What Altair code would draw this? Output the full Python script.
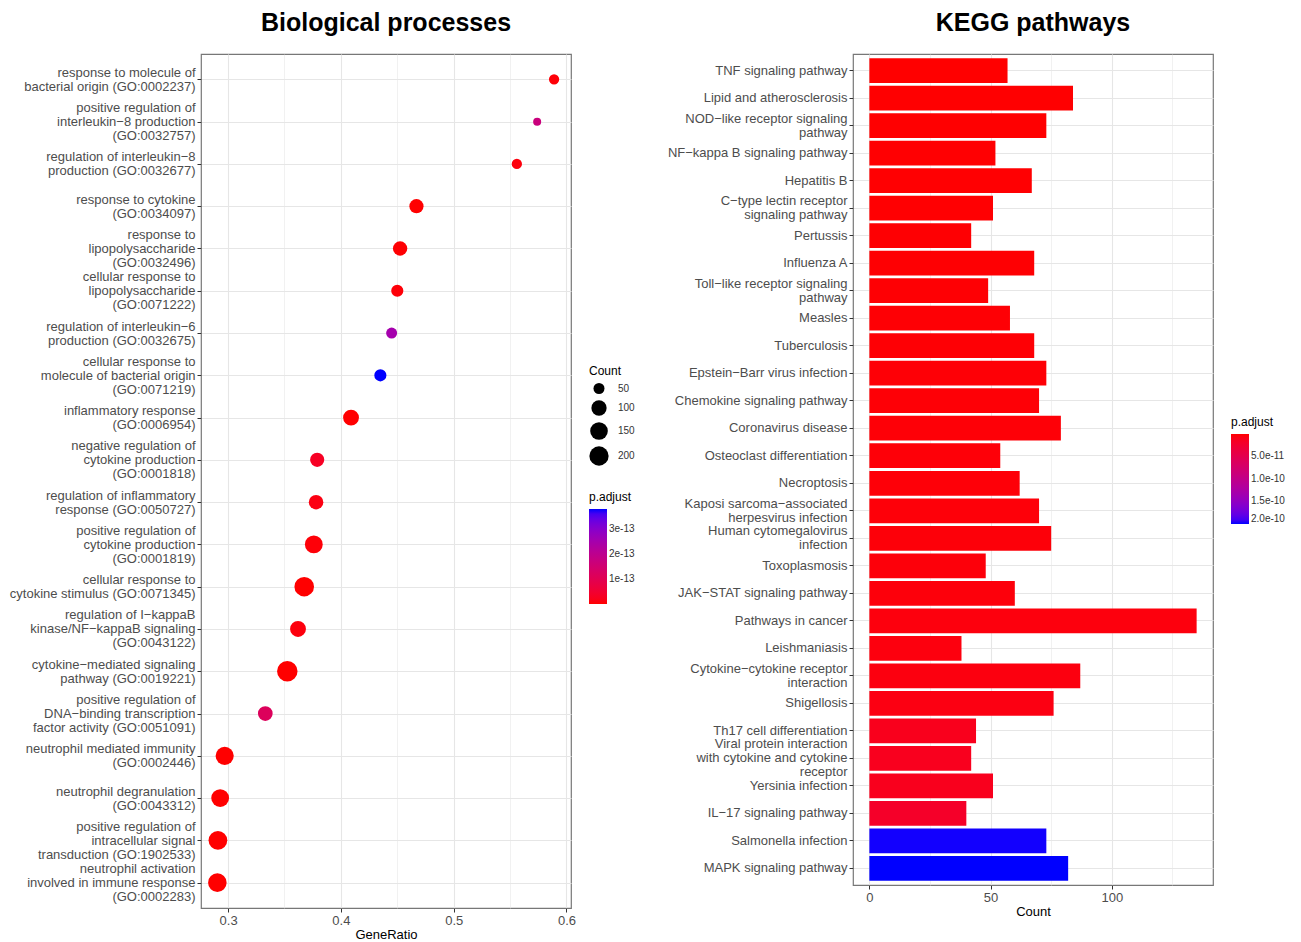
import altair as alt
import pandas as pd

FONT = "Liberation Sans"

# ---------------- Biological processes (GO) ----------------
go_terms = [
    "response to molecule of|bacterial origin (GO:0002237)",
    "positive regulation of|interleukin−8 production|(GO:0032757)",
    "regulation of interleukin−8|production (GO:0032677)",
    "response to cytokine|(GO:0034097)",
    "response to|lipopolysaccharide|(GO:0032496)",
    "cellular response to|lipopolysaccharide|(GO:0071222)",
    "regulation of interleukin−6|production (GO:0032675)",
    "cellular response to|molecule of bacterial origin|(GO:0071219)",
    "inflammatory response|(GO:0006954)",
    "negative regulation of|cytokine production|(GO:0001818)",
    "regulation of inflammatory|response (GO:0050727)",
    "positive regulation of|cytokine production|(GO:0001819)",
    "cellular response to|cytokine stimulus (GO:0071345)",
    "regulation of I−kappaB|kinase/NF−kappaB signaling|(GO:0043122)",
    "cytokine−mediated signaling|pathway (GO:0019221)",
    "positive regulation of|DNA−binding transcription|factor activity (GO:0051091)",
    "neutrophil mediated immunity|(GO:0002446)",
    "neutrophil degranulation|(GO:0043312)",
    "positive regulation of|intracellular signal|transduction (GO:1902533)",
    "neutrophil activation|involved in immune response|(GO:0002283)",
]
go_ratio = [0.589, 0.574, 0.556, 0.467, 0.4525, 0.450, 0.445, 0.435, 0.409,
            0.379, 0.378, 0.376, 0.3675, 0.362, 0.3525, 0.333, 0.297, 0.293,
            0.291, 0.2905]
go_count = [45, 33, 45, 83, 86, 60, 50, 60, 111, 83, 88, 155, 212, 111, 248,
            91, 165, 155, 182, 176]
go_padj = [5e-15, 1.7e-13, 8e-15, 1e-15, 2e-15, 5e-15, 2.5e-13, 3.8e-13, 1e-15,
           3e-14, 1.2e-14, 5e-15, 1e-16, 8e-15, 1e-16, 1.15e-13, 1e-16, 1e-16,
           1e-16, 1e-16]

# ---------------- KEGG pathways ----------------
kegg_terms = [
    "TNF signaling pathway",
    "Lipid and atherosclerosis",
    "NOD−like receptor signaling|pathway",
    "NF−kappa B signaling pathway",
    "Hepatitis B",
    "C−type lectin receptor|signaling pathway",
    "Pertussis",
    "Influenza A",
    "Toll−like receptor signaling|pathway",
    "Measles",
    "Tuberculosis",
    "Epstein−Barr virus infection",
    "Chemokine signaling pathway",
    "Coronavirus disease",
    "Osteoclast differentiation",
    "Necroptosis",
    "Kaposi sarcoma−associated|herpesvirus infection",
    "Human cytomegalovirus|infection",
    "Toxoplasmosis",
    "JAK−STAT signaling pathway",
    "Pathways in cancer",
    "Leishmaniasis",
    "Cytokine−cytokine receptor|interaction",
    "Shigellosis",
    "Th17 cell differentiation",
    "Viral protein interaction|with cytokine and cytokine|receptor",
    "Yersinia infection",
    "IL−17 signaling pathway",
    "Salmonella infection",
    "MAPK signaling pathway",
]
kegg_count = [57, 84, 73, 52, 67, 51, 42, 68, 49, 58, 68, 73, 70, 79, 54, 62,
              70, 75, 48, 60, 135, 38, 87, 76, 44, 42, 51, 40, 73, 82]
kegg_padj = [1.0e-12, 1.2e-12, 1.3e-12, 1.5e-12, 1.6e-12, 1.8e-12, 2.0e-12,
             2.1e-12, 2.3e-12, 2.5e-12, 2.6e-12, 2.8e-12, 3.0e-12, 3.2e-12,
             3.4e-12, 3.6e-12, 3.8e-12, 4.0e-12, 4.3e-12, 4.6e-12, 5.0e-12,
             5.5e-12, 6.0e-12, 7.0e-12, 1.2e-11, 1.3e-11, 1.25e-11, 2.0e-11,
             1.99e-10, 2.0e-10]

bp = pd.DataFrame({"term": go_terms, "GeneRatio": go_ratio,
                   "Count": go_count, "padj": go_padj})
kg = pd.DataFrame({"term": kegg_terms, "Count": kegg_count, "padj": kegg_padj})

title_style = dict(fontSize=25, font=FONT, fontWeight="bold", anchor="middle",
                   frame="group", offset=18, color="black")

nlines = "length(split(datum.value, '|'))"
label_shift = {"condition": [{"test": nlines + " == 3", "value": -14},
                             {"test": nlines + " == 2", "value": -7}],
               "value": 0}

major_go = "abs(datum.value*10 - round(datum.value*10)) < 0.001"
left = alt.Chart(bp, title=alt.Title("Biological processes", **title_style)).mark_circle(
    opacity=1
).encode(
    x=alt.X("GeneRatio:Q",
            scale=alt.Scale(domain=[0.276, 0.604], nice=False, zero=False),
            axis=alt.Axis(values=[0.3, 0.35, 0.4, 0.45, 0.5, 0.55, 0.6],
                          labelExpr=major_go + " ? format(datum.value, '.1f') : ''",
                          gridWidth={"condition": {"test": major_go, "value": 1.1}, "value": 0.55},
                          tickOpacity={"condition": {"test": major_go, "value": 1}, "value": 0},
                          title="GeneRatio", titlePadding=1)),
    y=alt.Y("term:N", sort=go_terms, scale=alt.Scale(padding=0.6),
            axis=alt.Axis(title=None, labelExpr="split(datum.label, '|')",
                          labelLineHeight=14, labelLimit=400, grid=True,
                          gridWidth=1.1, labelOffset=label_shift)),
    size=alt.Size("Count:Q",
                  scale=alt.Scale(type="pow", exponent=0.3, domain=[33, 248],
                                  range=[64, 420], zero=False),
                  legend=alt.Legend(title="Count", values=[50, 100, 150, 200],
                                    orient="none", legendX=388, legendY=312,
                                    symbolFillColor="black", symbolStrokeWidth=0,
                                    symbolOpacity=1, rowPadding=6, labelOffset=9)),
    color=alt.Color("padj:Q",
                    scale=alt.Scale(range=["red", "blue"], interpolate="lab"),
                    legend=alt.Legend(title="p.adjust", values=[1e-13, 2e-13, 3e-13],
                                      format=".0e", orient="none", legendX=388,
                                      legendY=438, gradientLength=95,
                                      gradientThickness=18)),
).properties(width=370, height=854)

major_kg = "datum.value % 50 === 0"
right = alt.Chart(kg, title=alt.Title("KEGG pathways", **title_style)).transform_calculate(
    negp="-datum.padj"
).mark_bar().encode(
    x=alt.X("Count:Q",
            scale=alt.Scale(domain=[-6.75, 141.75], nice=False, zero=False),
            axis=alt.Axis(values=[0, 25, 50, 75, 100, 125],
                          labelExpr=major_kg + " ? format(datum.value, 'd') : ''",
                          gridWidth={"condition": {"test": major_kg, "value": 1.1}, "value": 0.55},
                          tickOpacity={"condition": {"test": major_kg, "value": 1}, "value": 0},
                          title="Count", titlePadding=1)),
    x2=alt.datum(0),
    y=alt.Y("term:N", sort=kegg_terms,
            scale=alt.Scale(paddingInner=0.1, paddingOuter=0.15),
            axis=alt.Axis(title=None, labelExpr="split(datum.label, '|')",
                          labelLineHeight=14, labelLimit=400, grid=True,
                          gridWidth=1.1, labelOffset=label_shift)),
    color=alt.Color("negp:Q",
                    scale=alt.Scale(range=["blue", "red"], interpolate="lab"),
                    legend=alt.Legend(title="p.adjust",
                                      values=[-2e-10, -1.5e-10, -1e-10, -5e-11],
                                      labelExpr="format(-datum.value, '.1e')",
                                      orient="none", legendX=378, legendY=363,
                                      gradientLength=90, gradientThickness=18)),
).properties(width=360, height=831)

chart = alt.hconcat(left, right, spacing=30).resolve_scale(
    color="independent", size="independent", x="independent", y="independent"
).properties(
    padding={"left": 0, "top": 2, "right": 0, "bottom": 0}
).configure_view(
    stroke="#777777", strokeWidth=1.2
).configure_axis(
    labelFont=FONT, labelFontSize=13, labelColor="#4D4D4D",
    titleFont=FONT, titleFontSize=13, titleColor="black", titleFontWeight="normal",
    tickColor="#333333", tickSize=4, labelPadding=2,
    gridColor="#E6E6E6", domain=False,
).configure_legend(
    titleFont=FONT, titleFontSize=12, titleFontWeight="normal", titleColor="black",
    labelFont=FONT, labelFontSize=10, labelColor="#333333",
)

chart.save("out.html", embed_options={"renderer": "svg", "actions": False})
